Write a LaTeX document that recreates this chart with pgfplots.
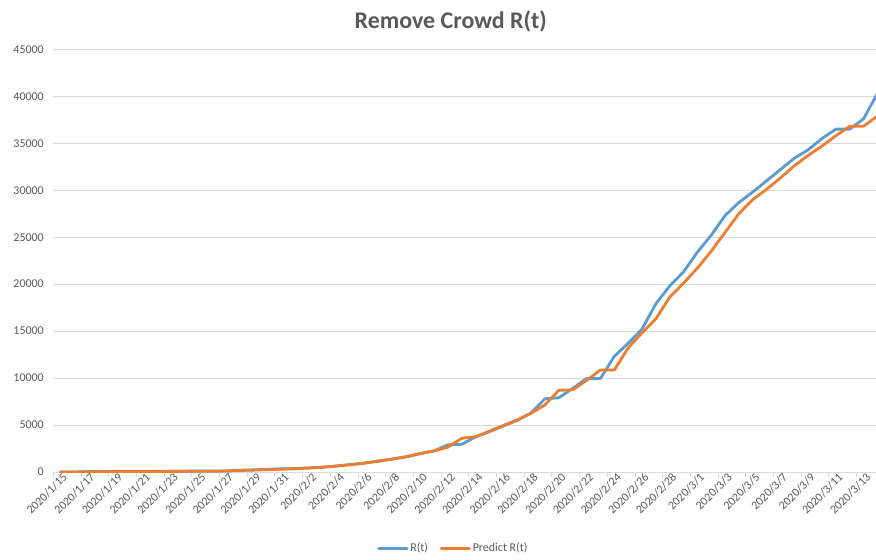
\documentclass[border=0pt]{standalone}
\usepackage{fontspec}
\setmainfont{Carlito}
\usepackage{pgfplots}
\pgfplotsset{compat=1.18}
\usepackage{pgfplotstable}

\definecolor{rblue}{HTML}{5B9BD5}
\definecolor{porange}{HTML}{ED7D31}
\definecolor{gridgray}{HTML}{D9D9D9}
\definecolor{textgray}{HTML}{595959}

% day index (0 = 2020/1/15), removed crowd R(t), predicted R(t)
\pgfplotstableread{
day removed predicted
0   0      0
1   0      0
2   40     10
3   80     30
4   90     50
5   90     60
6   90     60
7   90     60
8   90     65
9   90     70
10  95     75
11  100    80
12  110    100
13  190    160
14  230    200
15  290    250
16  340    300
17  380    350
18  440    420
19  520    510
20  650    640
21  800    780
22  960    950
23  1170   1150
24  1390   1380
25  1630   1620
26  1980   1950
27  2250   2250
28  2900   2650
29  2950   3600
30  3750   3750
31  4300   4350
32  4900   4950
33  5500   5550
34  6300   6250
35  7800   7150
36  7900   8700
37  8900   8750
38  9950   9750
39  9950   10850
40  12300  10850
41  13700  13200
42  15200  14800
43  17900  16300
44  19800  18600
45  21300  20100
46  23400  21700
47  25200  23500
48  27300  25500
49  28700  27500
50  29800  29000
51  31000  30100
52  32200  31300
53  33400  32600
54  34300  33700
55  35500  34700
56  36500  35800
57  36500  36800
58  37600  36800
59  40300  37900
}\crowd

\begin{document}
\begin{tikzpicture}
\begin{axis}[
  scale only axis,
  width=822.7bp, height=422.7bp,
  xmin=-0.5, xmax=58.9,
  ymin=0, ymax=45000,
  axis lines*=left,
  y axis line style={draw=none},
  x axis line style={draw=gridgray, line width=1bp},
  ymajorgrids,
  major grid style={draw=gridgray, line width=1bp},
  ytick={0,5000,...,45000},
  scaled y ticks=false,
  /pgf/number format/assume math mode=true,
  /pgf/number format/set thousands separator={},
  yticklabel style={font=\fontsize{12}{14}\selectfont, text=textgray, xshift=-6bp},
  xtick={0,2,...,58},
  xticklabels={2020/1/15,2020/1/17,2020/1/19,2020/1/21,2020/1/23,2020/1/25,
    2020/1/27,2020/1/29,2020/1/31,2020/2/2,2020/2/4,2020/2/6,2020/2/8,
    2020/2/10,2020/2/12,2020/2/14,2020/2/16,2020/2/18,2020/2/20,2020/2/22,
    2020/2/24,2020/2/26,2020/2/28,2020/3/1,2020/3/3,2020/3/5,2020/3/7,
    2020/3/9,2020/3/11,2020/3/13},
  xticklabel style={font=\fontsize{12}{14}\selectfont, text=textgray,
    rotate=45, anchor=east, inner sep=1bp, yshift=-6bp, xshift=2bp},
  minor xtick={-0.5,1.5,...,57.5},
  tick align=outside,
  major tick length=0bp,
  minor tick length=5bp,
  every tick/.style={draw=gridgray, line width=1bp},
  clip=true,
  legend columns=2,
  legend cell align=left,
  legend style={draw=none, fill=none, at={(0.4864,-0.1805)}, anchor=center,
    font=\fontsize{12}{14}\selectfont, text=textgray,
    /tikz/every even column/.append style={column sep=10bp}},
  legend image code/.code={\draw[#1] (0bp,0bp) -- (28bp,0bp);},
]
\addplot[rblue, line width=2.8bp, line join=round, line cap=round]
  table[x=day, y=removed]{\crowd};
\addlegendentry{R(t)}
\addplot[porange, line width=2.8bp, line join=round, line cap=round]
  table[x=day, y=predicted]{\crowd};
\addlegendentry{Predict R(t)}
\end{axis}
\node[font=\fontsize{24}{28}\selectfont\bfseries, text=textgray]
  at (397.5bp,451bp) {Remove Crowd R(t)};
\pgfresetboundingbox
\path[use as bounding box] (-53.3bp,-88bp) rectangle (822.7bp,472bp);
\end{tikzpicture}
\end{document}
